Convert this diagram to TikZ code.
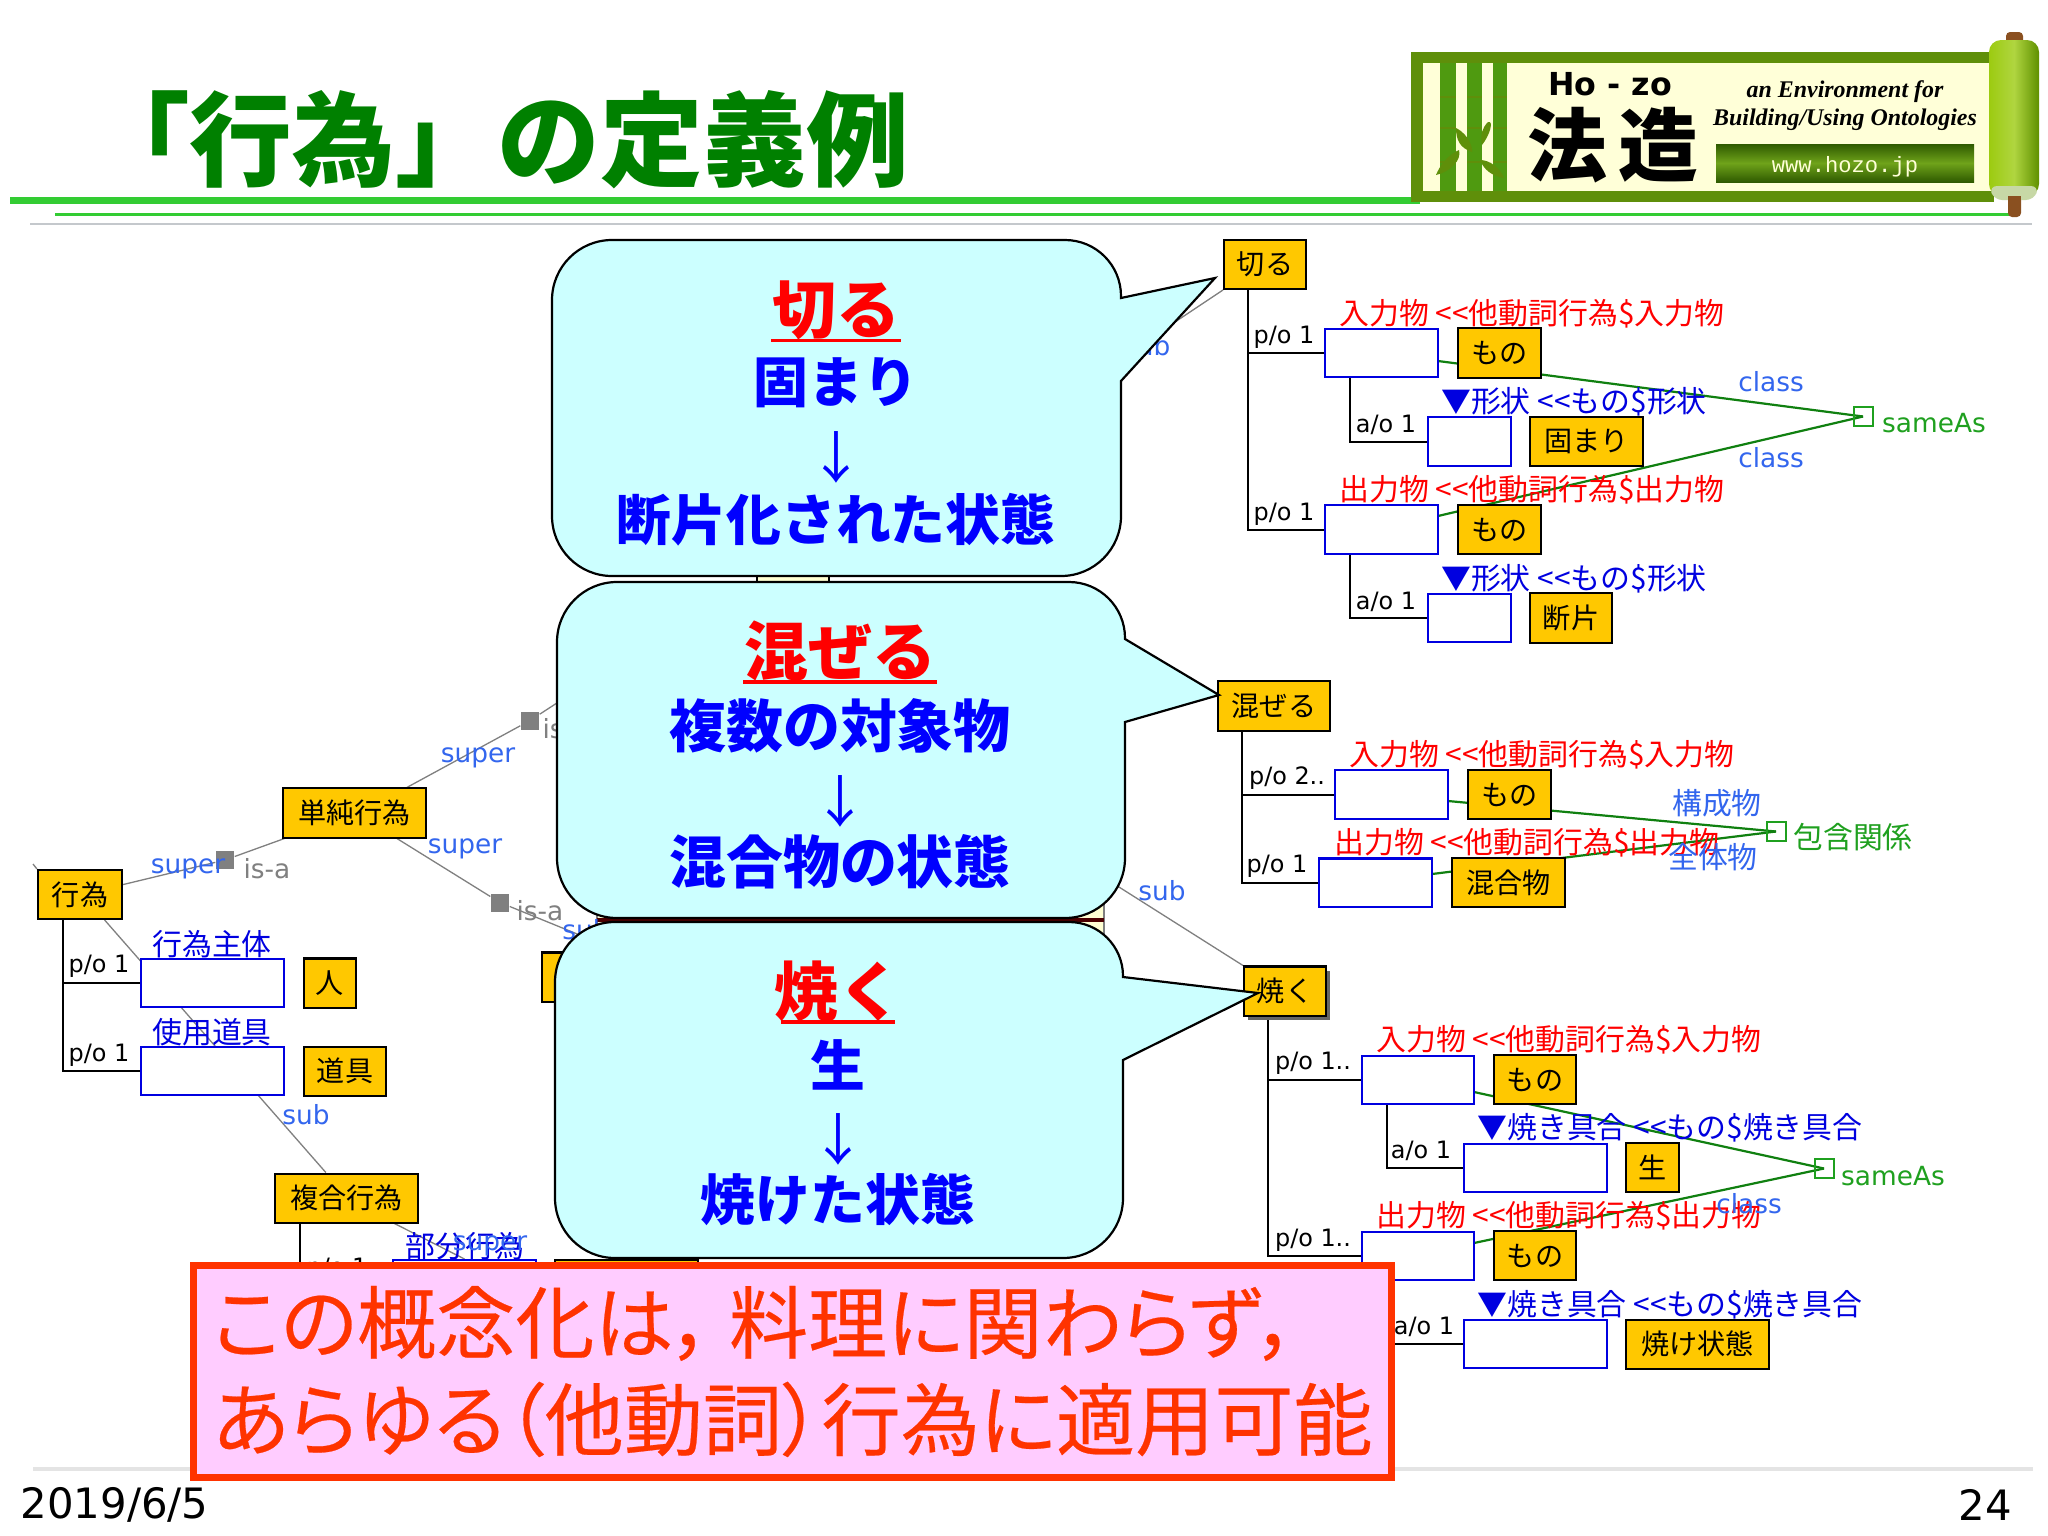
\documentclass[tikz,border=0pt]{standalone}
\usepackage{fontspec}
\setmainfont{Noto Sans CJK JP}
\newfontfamily\notefont[RawFeature=+palt,FakeBold=.3]{Noto Sans CJK JP}
\newfontfamily\dejafont{DejaVu Sans}
\newfontfamily\logofont{Liberation Serif}
\newfontfamily\monofont{Liberation Mono}
\usetikzlibrary{backgrounds}
\definecolor{TitleGreen}{HTML}{008000}
\definecolor{RuleGreen}{HTML}{33CC33}
\definecolor{RuleGrey}{HTML}{C4C8CC}
\definecolor{FootGrey}{HTML}{E4E4E4}
\definecolor{ClassOrange}{HTML}{FFC800}
\definecolor{SlotBlue}{HTML}{0000E0}
\definecolor{BodyBlue}{HTML}{0000FF}
\definecolor{RoleRed}{HTML}{FF0000}
\definecolor{LinkBlue}{HTML}{3366EE}
\definecolor{RelGrey}{HTML}{808080}
\definecolor{SameLine}{HTML}{108010}
\definecolor{SameGreen}{HTML}{1FA01F}
\definecolor{BubbleCyan}{HTML}{CCFFFF}
\definecolor{NotePink}{HTML}{FFCCFF}
\definecolor{NoteRed}{HTML}{FF3300}
\definecolor{PaleYellow}{HTML}{FFFFD2}
\definecolor{FrameGreen}{HTML}{5F8F0A}
\definecolor{ScrollCream}{HTML}{FFFFD8}
\definecolor{BambooGreen}{HTML}{4F9A10}
\definecolor{RollLight}{HTML}{9CCB10}
\definecolor{RollDark}{HTML}{5F9000}
\definecolor{BarDark}{HTML}{2F5A00}
\definecolor{BarLight}{HTML}{6FA31A}
\definecolor{RodBrown}{HTML}{8A5020}

\begin{document}
\begin{tikzpicture}[x=.01cm,y=-.01cm,every node/.style={inner sep=0pt,text=black},
classbox/.style={draw=black,fill=ClassOrange,line width=.02cm,minimum height=.49cm,font=\fontsize{8}{9}\selectfont},
slotbox/.style={draw=SlotBlue,fill=white,line width=.02cm,minimum height=.48cm},
rolered/.style={text=RoleRed,font=\fontsize{8.5}{9}\selectfont},
roleblue/.style={text=SlotBlue,font=\fontsize{8.5}{9}\selectfont},
linkblue/.style={text=LinkBlue,font=\dejafont\fontsize{7.5}{9}\selectfont},
linkcjk/.style={text=LinkBlue,font=\fontsize{8.5}{9}\selectfont},
cardlabel/.style={font=\dejafont\fontsize{6.8}{8}\selectfont},
relgrey/.style={text=RelGrey,font=\dejafont\fontsize{7.5}{9}\selectfont},
samelabel/.style={text=SameGreen,font=\dejafont\fontsize{7.5}{9}\selectfont},
samecjk/.style={text=SameGreen,font=\fontsize{8.5}{9}\selectfont},
samebox/.style={draw=SameGreen,line width=.02cm,minimum size=.19cm},
relsquare/.style={fill=RelGrey,minimum size=.18cm},
treeline/.style={draw=black,line width=.02cm},
relline/.style={draw=RelGrey,line width=.013cm},
sameline/.style={draw=SameLine,line width=.022cm},
bubble/.style={draw=black,fill=BubbleCyan,line width=.022cm},
headtext/.style={text=RoleRed,font=\bfseries\fontsize{18.2}{20}\selectfont},
bodytext/.style={text=BodyBlue,font=\bfseries\fontsize{15.6}{18}\selectfont},
bodywide/.style={text=BodyBlue,font=\bfseries\fontsize{16.2}{18}\selectfont},
arrowtext/.style={text=BodyBlue,font=\fontsize{15.9}{18}\selectfont},
headline/.style={draw=RoleRed,line width=.035cm}]
\useasboundingbox(0,0)rectangle(2048,1536);

% slide head
\fill[RuleGreen](10,197)rectangle(1420,204);\fill[RuleGreen](55,213)rectangle(2010,216);\fill[RuleGrey](30,223)rectangle(2032,225);\fill[FootGrey](33,1467)rectangle(2033,1471);
\node[text=TitleGreen,font=\bfseries\fontsize{29.2}{31}\selectfont](Title)at(498,140){「行為」の定義例};

% scroll
\fill[FrameGreen](1411,52)rectangle(1994,202);\fill[ScrollCream](1423,63)rectangle(1992,191);
\fill[BambooGreen](1440,63)rectangle(1456,191);\fill[BambooGreen](1467,63)rectangle(1482,191);\fill[BambooGreen](1493,63)rectangle(1507,191);
\draw[FrameGreen,line width=.015cm](1440,97)--(1456,97)(1467,97)--(1482,97)(1493,97)--(1507,97)(1440,128)--(1456,128)(1467,128)--(1482,128)(1493,128)--(1507,128)(1440,162)--(1456,162)(1467,162)--(1482,162)(1493,162)--(1507,162);
\fill[FrameGreen](1456,128)..controls(1470,135)and(1473,150)..(1472,152)..controls(1460,148)and(1456,140)..(1456,128);\fill[FrameGreen](1488,122)..controls(1494,120)and(1490,135)..(1482,145)..controls(1480,135)and(1482,128)..(1488,122);
\fill[FrameGreen](1459,150)..controls(1462,160)and(1450,172)..(1436,175)..controls(1440,165)and(1448,155)..(1459,150);\fill[FrameGreen](1480,160)..controls(1490,160)and(1500,168)..(1504,178)..controls(1492,176)and(1484,170)..(1480,160);
\fill[RodBrown,rounded corners=.04cm](2006,32)rectangle(2023,46);\fill[RodBrown,rounded corners=.04cm](2008,190)rectangle(2021,217);
\shade[left color=RollLight,right color=RollDark,middle color=RollLight!80!white,rounded corners=.12cm](1989,40)rectangle(2039,196);
\fill[RollDark!35!white,rounded corners=.08cm](1989,186)--(2039,186)--(2034,200)--(1994,200)--cycle;\fill[RodBrown](2008,196)rectangle(2021,205);
\node[font=\dejafont\bfseries\fontsize{9}{10}\selectfont](LogoLatin)at(1610,84){Ho - zo};
\node[font=\bfseries\fontsize{22.7}{24}\selectfont](LogoKanji)at(1613,145){法\hspace{.15em}造};
\node[font=\logofont\bfseries\itshape\fontsize{6.8}{8}\selectfont](LogoLineA)at(1845,92){an Environment for};
\node[font=\logofont\bfseries\itshape\fontsize{6.8}{8}\selectfont](LogoLineB)at(1845,120){Building/Using Ontologies};
\shade[top color=BarDark,bottom color=BarDark,middle color=BarLight](1716,144)rectangle(1974,182);
\node[text=ScrollCream,font=\monofont\fontsize{6.3}{8}\selectfont](LogoUrl)at(1845,167){www.hozo.jp};

% hidden boxes
\node[draw=black,fill=PaleYellow,line width=.015cm,minimum width=.72cm,minimum height=.4cm](PaleTop)at(793,580){};
\node[draw=RelGrey,fill=PaleYellow,line width=.015cm,minimum width=5.07cm,minimum height=1.2cm](PaleLow)at(850.5,950){};
\fill[black!70!red](597,918)rectangle(1104,922);
\node[classbox,minimum width=1.55cm](Chukan)at(620,977){};

% left tree
\node[classbox,minimum width=.84cm](Koui)at(80,894.5){行為};
\node[slotbox,minimum width=1.43cm](KouiAgent)at(212.5,983){};\node[classbox,minimum width=.52cm](Hito)at(330,983){人};
\node[slotbox,minimum width=1.43cm](KouiTool)at(212.5,1071){};\node[classbox,minimum width=.82cm](Dogu)at(345,1071){道具};
\node[linkcjk,text=SlotBlue](KouiAgentLbl)at(212,944){行為主体};\node[linkcjk,text=SlotBlue](KouiToolLbl)at(212,1032){使用道具};
\node[cardlabel](KouiAgentCard)at(99,966){p/o 1};\node[cardlabel](KouiToolCard)at(99,1055){p/o 1};
\node[classbox,minimum width=1.43cm](Tanjun)at(354.5,813){単純行為};
\node[classbox,minimum width=1.43cm](Fukugo)at(346.5,1198){複合行為};
\node[relsquare](SqLow)at(225,860){};\node[relsquare](SqUp)at(530,720.5){};\node[relsquare](SqDown)at(500,902.5){};
\node[linkblue](SuperA)at(188,869){super};\node[relgrey](IsaA)at(267,869){is-a};
\node[linkblue](SuperB)at(478,758){super};\node[relgrey](IsaB)at(566,729){is-a};
\node[linkblue](SuperC)at(465,849){super};\node[relgrey](IsaC)at(540,911){is-a};
\node[linkblue](SubA)at(306,1115){sub};\node[linkblue](SubB)at(586,930){sub};
\node[slotbox,minimum width=1.43cm](BubunSlot)at(464.5,1284){};\node[classbox,minimum width=1.43cm](BubunCls)at(626.5,1284){};
\node[linkcjk,text=SlotBlue](BubunLbl)at(465,1246){部分行為};\node[linkblue](SuperD)at(490,1246){super};
\node[cardlabel](BubunCard)at(337,1269){p/o 1};

% cut
\node[classbox,minimum width=.82cm](Kiru)at(1265,264.5){切る};
\node[slotbox,minimum width=1.13cm](KiruIn)at(1381.5,353){};\node[classbox,minimum width=.83cm](KiruInCls)at(1499.5,353){もの};
\node[slotbox,minimum width=.83cm](KiruShape)at(1469.5,441.5){};\node[classbox,minimum width=1.13cm](KiruShapeCls)at(1586.5,441.5){固まり};
\node[slotbox,minimum width=1.13cm](KiruOut)at(1381.5,529.5){};\node[classbox,minimum width=.83cm](KiruOutCls)at(1499.5,529.5){もの};
\node[slotbox,minimum width=.83cm](KiruPiece)at(1469.5,618){};\node[classbox,minimum width=.82cm](KiruPieceCls)at(1571,618){断片};
\node[rolered](KiruInLbl)at(1532,314){入力物 <{}<他動詞行為\$入力物};\node[rolered](KiruOutLbl)at(1532,490){出力物 <{}<他動詞行為\$出力物};
\node[roleblue](KiruShapeLbl)at(1574,402){▼形状 <{}<もの\$形状};\node[roleblue](KiruPieceLbl)at(1574,579){▼形状 <{}<もの\$形状};
\node[cardlabel](KiruInCard)at(1284,337){p/o 1};\node[cardlabel](KiruOutCard)at(1284,514){p/o 1};\node[cardlabel](KiruShapeCard)at(1386,425){a/o 1};\node[cardlabel](KiruPieceCard)at(1386,602){a/o 1};
\node[samebox,minimum width=.19cm](KiruSame)at(1863,416.5){};\node[samelabel](KiruSameLbl)at(1934,423){sameAs};
\node[linkblue](KiruClassA)at(1771,382){class};\node[linkblue](KiruClassB)at(1771,458){class};
\node[linkblue,anchor=east](KiruSub)at(1171,346){sub};

% mix
\node[classbox,minimum width=1.12cm](Mazeru)at(1274,706){混ぜる};
\node[slotbox,minimum width=1.13cm](MazeruIn)at(1391.5,794.5){};\node[classbox,minimum width=.83cm](MazeruInCls)at(1509.5,794.5){もの};
\node[slotbox,minimum width=1.13cm](MazeruOut)at(1375.5,882.5){};\node[classbox,minimum width=1.13cm](MazeruOutCls)at(1508.5,882.5){混合物};
\node[rolered](MazeruInLbl)at(1542,755){入力物 <{}<他動詞行為\$入力物};\node[rolered](MazeruOutLbl)at(1527,843){出力物 <{}<他動詞行為\$出力物};
\node[cardlabel](MazeruInCard)at(1287,778){p/o 2..};\node[cardlabel](MazeruOutCard)at(1277,866){p/o 1};
\node[samebox](MazeruSame)at(1776,831.5){};\node[samecjk](MazeruSameLbl)at(1853,837){包含関係};
\node[linkcjk](MazeruPart)at(1717,803){構成物};\node[linkcjk](MazeruWhole)at(1713,857){全体物};
\node[linkblue](MazeruSub)at(1162,891){sub};

% bake
\node[fill=black!60,minimum width=.82cm,minimum height=.49cm](YakuShade)at(1289,995){};
\node[classbox,minimum width=.82cm](Yaku)at(1285,991){焼く};
\node[slotbox,minimum width=1.12cm](YakuIn)at(1418,1079.5){};\node[classbox,minimum width=.82cm](YakuInCls)at(1535,1079.5){もの};
\node[slotbox,minimum width=1.43cm](YakuRaw)at(1535.5,1167.5){};\node[classbox,minimum width=.53cm](YakuRawCls)at(1652.5,1167.5){生};
\node[slotbox,minimum width=1.12cm](YakuOut)at(1418,1255.5){};\node[classbox,minimum width=.82cm](YakuOutCls)at(1535,1255.5){もの};
\node[slotbox,minimum width=1.43cm](YakuDone)at(1535.5,1344){};\node[classbox,minimum width=1.43cm](YakuDoneCls)at(1697.5,1344){焼け状態};
\node[rolered](YakuInLbl)at(1569,1040){入力物 <{}<他動詞行為\$入力物};\node[rolered](YakuOutLbl)at(1569,1216){出力物 <{}<他動詞行為\$出力物};
\node[roleblue](YakuRawLbl)at(1670,1128){▼焼き具合 <{}<もの\$焼き具合};\node[roleblue](YakuDoneLbl)at(1670,1305){▼焼き具合 <{}<もの\$焼き具合};
\node[cardlabel](YakuInCard)at(1313,1063){p/o 1..};\node[cardlabel](YakuOutCard)at(1313,1240){p/o 1..};\node[cardlabel](YakuRawCard)at(1421,1151){a/o 1};\node[cardlabel](YakuDoneCard)at(1424,1327){a/o 1};
\node[samebox](YakuSame)at(1824,1168.5){};\node[samelabel](YakuSameLbl)at(1893,1176){sameAs};
\node[linkblue](YakuClass)at(1749,1204){class};

% tree drops and free ends
\coordinate(KouiTop)at(63,919);\coordinate(FukugoTop)at(300,1222);\coordinate(FukugoLow)at(300,1262);\coordinate(KouiStub)at(33,864);
\coordinate(KiruTop)at(1248,289);\coordinate(KiruInDrop)at(1350,377);\coordinate(KiruOutDrop)at(1350,554);
\coordinate(MazeruTop)at(1242,730);\coordinate(YakuTop)at(1268,1015);\coordinate(YakuInDrop)at(1387,1104);\coordinate(YakuOutDrop)at(1387,1280);
\coordinate(KiruInEdge)at(1438,361);\coordinate(KiruOutEdge)at(1438,516);\coordinate(MazeruInEdge)at(1448,801);\coordinate(MazeruOutEdge)at(1432,874);\coordinate(YakuInEdge)at(1474,1092);\coordinate(YakuOutEdge)at(1474,1243);
\coordinate(KiruEnd)at(1100,372);\coordinate(MazeruEnd)at(1100,875);\coordinate(UpEnd)at(600,675);

\begin{scope}[on background layer]
\fill[white](0,0)rectangle(2048,1536);
\draw[treeline](KouiTop)|-(KouiAgent.west);\draw[treeline](KouiTop)|-(KouiTool.west);\draw[treeline](FukugoTop)--(FukugoLow);
\draw[treeline](KiruTop)|-(KiruIn.west);\draw[treeline](KiruTop)|-(KiruOut.west);\draw[treeline](KiruInDrop)|-(KiruShape.west);\draw[treeline](KiruOutDrop)|-(KiruPiece.west);
\draw[treeline](MazeruTop)|-(MazeruIn.west);\draw[treeline](MazeruTop)|-(MazeruOut.west);
\draw[treeline](YakuTop)|-(YakuIn.west);\draw[treeline](YakuTop)|-(YakuOut.west);\draw[treeline](YakuInDrop)|-(YakuRaw.west);\draw[treeline](YakuOutDrop)|-(YakuDone.west);
\draw[relline](Koui.13)--(SqLow)--(Tanjun.200);\draw[relline](Tanjun.26)--(SqUp)--(UpEnd);\draw[relline](Tanjun.329)--(SqDown)--(Chukan.north);
\draw[relline](Koui.314)--(Fukugo.129);\draw[relline](Fukugo.332)--(BubunSlot.north);\draw[relline](KouiStub)--(Koui.north west);
\draw[relline](Kiru.south west)--(KiruEnd);\draw[relline](MazeruEnd)--(Yaku.north west);
\draw[sameline](KiruInEdge)--(KiruSame.center);\draw[sameline](KiruOutEdge)--(KiruSame.center);
\draw[sameline](MazeruInEdge)--(MazeruSame.center);\draw[sameline](MazeruOutEdge)--(MazeruSame.center);
\draw[sameline](YakuInEdge)--(YakuSame.center);\draw[sameline](YakuOutEdge)--(YakuSame.center);
\end{scope}

% balloons
\draw[bubble](1121,298)--(1215,278)--(1121,381)[rounded corners=.6cm]--(1121,576)--(552,576)--(552,240)[rounded corners=.56cm]--(1121,240)[sharp corners]--cycle;
\node[headtext](KiruHead)at(836,310){切る};\draw[headline](KiruHead.south west)--(KiruHead.south east);
\node[bodytext](KiruFrom)at(836,383){固まり};\node[arrowtext](KiruArrow)at(836,457){↓};\node[bodytext](KiruTo)at(836,520){断片化された状態};
\draw[bubble](1125,639)--(1219,695)--(1125,722)[rounded corners=.6cm]--(1125,918)--(557,918)--(557,582)[rounded corners=.56cm]--(1125,582)[sharp corners]--cycle;
\node[headtext](MazeruHead)at(840,651){混ぜる};\draw[headline](MazeruHead.south west)--(MazeruHead.south east);
\node[bodywide](MazeruFrom)at(840,726){複数の対象物};\node[arrowtext](MazeruArrow)at(840,801){↓};\node[bodywide](MazeruTo)at(840,862){混合物の状態};
\draw[bubble](1123,977)--(1258,993)--(1123,1060)[rounded corners=.6cm]--(1123,1258)--(555,1258)--(555,922)[rounded corners=.54cm]--(1123,922)[sharp corners]--cycle;
\node[headtext](YakuHead)at(838,991){焼く};\draw[headline,shorten <=.08cm,shorten >=.08cm](YakuHead.south west)--(YakuHead.south east);
\node[bodytext](YakuFrom)at(838,1065){生};\node[arrowtext](YakuArrow)at(838,1139){↓};\node[bodytext](YakuTo)at(838,1200){焼けた状態};

% note and footer
\node[draw=NoteRed,fill=NotePink,line width=.07cm,minimum width=11.98cm,minimum height=2.12cm,text=NoteRed,align=left,font=\notefont\fontsize{22.5}{27.6}\selectfont](Note)at(792.5,1371.5){この概念化は，\hspace{.2em}料理に関わらず，\hspace{.2em}\\あらゆる（他動詞）行為に適用可能};
\node[anchor=west,font=\dejafont\fontsize{11.9}{13}\selectfont](DateLbl)at(20,1505){2019/6/5};\node[font=\dejafont\fontsize{11.9}{13}\selectfont](PageLbl)at(1985,1505){24};
\end{tikzpicture}
\end{document}
